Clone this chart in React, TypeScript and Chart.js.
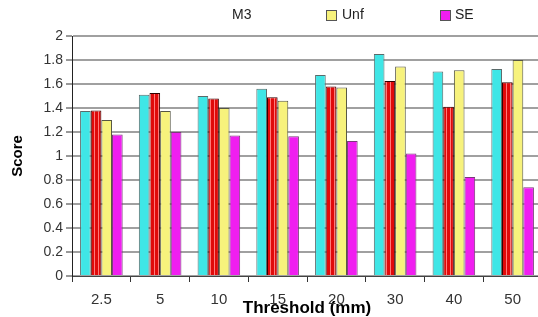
import React, { useEffect, useRef } from "react";
import { Chart, registerables } from "chart.js";

Chart.register(...registerables);

const categories = ["2.5", "5", "10", "15", "20", "30", "40", "50"];
const seriesNames = ["M1", "M2", "Unf", "SE"];
const cyanValues = [1.375, 1.51, 1.5, 1.56, 1.675, 1.85, 1.705, 1.725];
const redValues = [1.38, 1.525, 1.48, 1.49, 1.58, 1.625, 1.41, 1.615];
const yellowValues = [1.3, 1.375, 1.4, 1.46, 1.57, 1.745, 1.715, 1.8];
const magentaValues = [1.18, 1.2, 1.17, 1.165, 1.125, 1.02, 0.825, 0.74];
const legendLabels = ["M3", "Unf", "SE"];

function stripePattern(): CanvasPattern | string {
  const c = document.createElement("canvas");
  c.width = 4;
  c.height = 4;
  const g = c.getContext("2d");
  if (!g) return "#e01010";
  g.fillStyle = "#e00a0a";
  g.fillRect(0, 0, 4, 4);
  g.fillStyle = "#ff7a7a";
  g.fillRect(2, 0, 1, 4);
  const p = g.createPattern(c, "repeat");
  return p || "#e01010";
}

export default function App() {
  const ref = useRef<HTMLCanvasElement | null>(null);

  useEffect(() => {
    document.body.style.margin = "0";
    document.body.style.overflow = "hidden";
    const canvas = ref.current;
    if (!canvas) return;
    const font = "'Liberation Sans', Arial, sans-serif";
    const chart = new Chart(canvas, {
      type: "bar",
      data: {
        labels: categories,
        datasets: [
          { label: seriesNames[0], data: cyanValues, backgroundColor: "#3fe6e6", borderColor: "#5a6a6a", borderWidth: 1 },
          { label: seriesNames[1], data: redValues, backgroundColor: stripePattern() as any, borderColor: "#300000", borderWidth: 1 },
          { label: seriesNames[2], data: yellowValues, backgroundColor: "#f7f27c", borderColor: "#555544", borderWidth: 1 },
          { label: seriesNames[3], data: magentaValues, backgroundColor: "#f01ef0", borderColor: "#7a3a7a", borderWidth: 1 },
        ],
      },
      options: {
        responsive: false,
        animation: false,
        layout: { padding: { top: 36, right: 8, left: 0, bottom: 0 } },
        plugins: { legend: { display: false }, title: { display: false }, tooltip: { enabled: false } },
        datasets: { bar: { categoryPercentage: 0.725, barPercentage: 1 } },
        scales: {
          x: {
            grid: { offset: true, drawOnChartArea: false, tickLength: 6, tickColor: "#333", tickWidth: 1 },
            border: { color: "#444", width: 1 },
            ticks: { color: "#333", font: { family: font, size: 15 }, padding: 9, maxRotation: 0 },
            title: { display: true, text: "Threshold (mm)", color: "#000", font: { family: font, size: 17, weight: "bold", lineHeight: 1.0 }, padding: { top: 0, bottom: 0 } },
            afterFit: (s: any) => { s.height = 41; },
          },
          y: {
            min: 0,
            max: 2,
            ticks: {
              stepSize: 0.2,
              color: "#333",
              font: { family: font, size: 14 },
              padding: 3,
              callback: (v: any) => String(Math.round(Number(v) * 10) / 10),
            },
            grid: { color: "#a0a0a0", lineWidth: 2, tickLength: 6, tickColor: "#333", tickWidth: 1 },
            border: { color: "#222", width: 1 },
            title: { display: true, text: "Score", color: "#000", font: { family: font, size: 15, weight: "bold" }, padding: { top: 9, bottom: 0 } },
            afterFit: (s: any) => { s.width = 72; },
          },
        },
      },
    });
    return () => chart.destroy();
  }, []);

  const textStyle: React.CSSProperties = {
    position: "absolute",
    top: 5,
    fontFamily: "'Liberation Sans', Arial, sans-serif",
    fontSize: 14,
    lineHeight: "18px",
    color: "#222",
  };
  const boxStyle = (bg: string, left: number): React.CSSProperties => ({
    position: "absolute",
    left,
    top: 10,
    width: 9,
    height: 9,
    background: bg,
    border: "1px solid #555",
  });

  return (
    <div style={{ position: "fixed", left: 0, top: 0, width: 538, height: 317, overflow: "hidden", background: "#fff" }}>
      <div style={{ position: "absolute", left: 0, top: 0, width: 550, height: 317 }}>
        <canvas ref={ref} width={550} height={317} style={{ display: "block" }} />
      </div>
      <span style={{ ...textStyle, left: 232 }}>{legendLabels[0]}</span>
      <div style={boxStyle("#f7f27c", 326)} />
      <span style={{ ...textStyle, left: 342 }}>{legendLabels[1]}</span>
      <div style={boxStyle("#f01ef0", 440)} />
      <span style={{ ...textStyle, left: 455 }}>{legendLabels[2]}</span>
    </div>
  );
}
